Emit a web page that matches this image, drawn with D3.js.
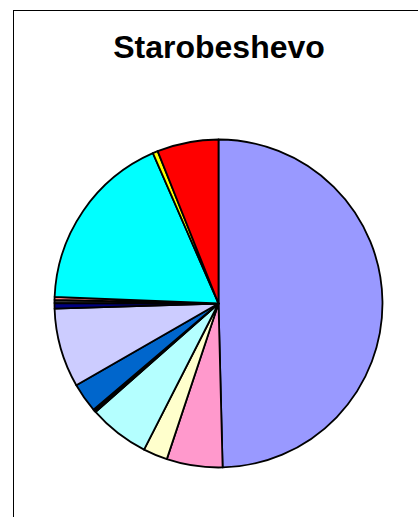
<!DOCTYPE html>
<html>
<head>
<meta charset="utf-8">
<script src="https://cdn.jsdelivr.net/npm/d3@7"></script>
<style>
  html, body { margin: 0; padding: 0; background: #fff; }
  svg { display: block; }
</style>
</head>
<body>
<script>
// Share of each group, in percent, clockwise from 12 o'clock
const categories = ["Group 1", "Group 2", "Group 3", "Group 4", "Group 5", "Group 6", "Group 7",
                    "Group 8", "Group 9", "Group 10", "Group 11", "Group 12", "Group 13", "Group 14"];
const values = [49.6, 5.5, 2.4, 6.0, 0.15, 0.15, 2.9, 7.8, 0.55, 0.3, 0.3, 17.8, 0.5, 6.05];
const colors = ["#9999FF", "#FF99CC", "#FFFFCC", "#B4FFFF", "#CC9933", "#800080", "#0066CC",
                "#CCCCFF", "#000080", "#333333", "#FF8080", "#00FFFF", "#FFFF00", "#FF0000"];
const title = "Starobeshevo";

const W = 418, H = 517;
const svg = d3.select("body").append("svg").attr("width", W).attr("height", H);

// chart frame
svg.append("rect")
  .attr("x", 13.5).attr("y", 10.5)
  .attr("width", 430).attr("height", 530)
  .attr("fill", "#fff").attr("stroke", "#000").attr("stroke-width", 1);

svg.append("text")
  .attr("x", 219).attr("y", 58)
  .attr("text-anchor", "middle")
  .attr("font-family", "Liberation Sans, Arial, sans-serif")
  .attr("font-weight", "bold")
  .attr("font-size", 32)
  .attr("fill", "#000")
  .text(title);

const cx = 218.5, cy = 303.5, r = 164;
const data = categories.map((c, i) => ({ name: c, value: values[i], color: colors[i] }));

const pie = d3.pie().sort(null).value(d => d.value).startAngle(0).endAngle(2 * Math.PI);
const arc = d3.arc().innerRadius(0).outerRadius(r);

svg.append("g")
  .attr("transform", `translate(${cx},${cy})`)
  .selectAll("path")
  .data(pie(data))
  .join("path")
  .attr("d", arc)
  .attr("fill", d => d.data.color)
  .attr("stroke", "#000")
  .attr("stroke-width", 1.8)
  .attr("stroke-linejoin", "round");
</script>
</body>
</html>
